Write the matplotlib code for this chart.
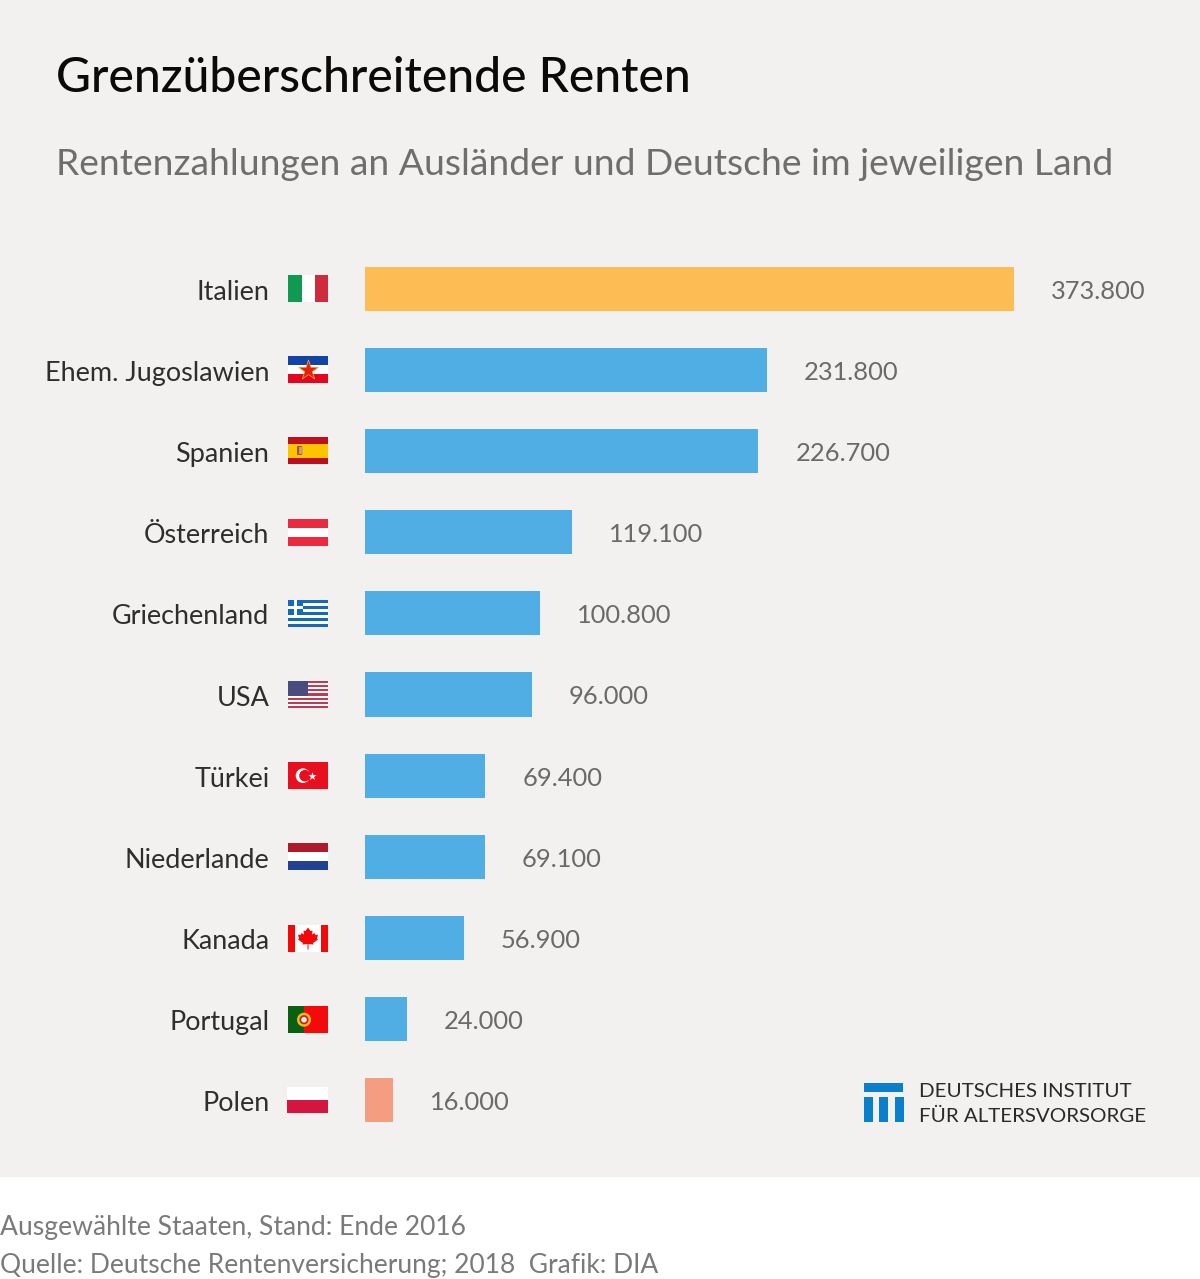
import matplotlib
matplotlib.use("Agg")
import matplotlib.pyplot as plt
from matplotlib.patches import Rectangle, Circle, Polygon
from matplotlib.transforms import ScaledTranslation

plt.rcParams['font.family'] = ['Lato', 'DejaVu Sans']

countries = ["Italien", "Ehem. Jugoslawien", "Spanien", "Österreich", "Griechenland", "USA",
             "Türkei", "Niederlande", "Kanada", "Portugal", "Polen"]
values = [373800, 231800, 226700, 119100, 100800, 96000, 69400, 69100, 56900, 24000, 16000]
value_labels = ["373.800", "231.800", "226.700", "119.100", "100.800", "96.000",
                "69.400", "69.100", "56.900", "24.000", "16.000"]
bar_colors = ["#FDBD54"] + ["#50AEE5"] * 9 + ["#F59D80"]
title = "Grenzüberschreitende Renten"
subtitle = "Rentenzahlungen an Ausländer und Deutsche im jeweiligen Land"
footer_lines = ["Ausgewählte Staaten, Stand: Ende 2016", "Quelle: Deutsche Rentenversicherung; 2018  Grafik: DIA"]
logo_lines = ["DEUTSCHES INSTITUT", "FÜR ALTERSVORSORGE"]

W, H = 1200, 1279
fig = plt.figure(figsize=(W / 100, H / 100), dpi=100, facecolor="white")

# overlay in pixel coordinates for backdrop, flags, logo and headings
bg = fig.add_axes([0, 0, 1, 1], zorder=0)
bg.set_xlim(0, W); bg.set_ylim(H, 0); bg.axis("off")
bg.add_patch(Rectangle((0, 0), W, 1177, fc="#F3F1F0", ec="none"))

ax = fig.add_axes([365 / W, 1 - 1141 / H, (W - 365) / W, (1141 - 248) / H], zorder=1)
ax.patch.set_alpha(0)
ax.set_xlim(0, (W - 365) / (648.5 / 373800))
ax.set_ylim(len(values) - 0.5, -0.5)
ypos = list(range(len(values)))
ax.barh(ypos, values, height=0.542, color=bar_colors, linewidth=0)
ax.set_yticks(ypos, countries)
ax.set_xticks([])
ax.tick_params(axis="y", length=0, pad=68.9, labelsize=19.45, labelcolor="#2E2E2E")
shift = ScaledTranslation(0, -1 / 100, fig.dpi_scale_trans)
for lab in ax.get_yticklabels():
    lab.set_transform(lab.get_transform() + shift)
for s in ax.spines.values():
    s.set_visible(False)
for y, v, t in zip(ypos, values, value_labels):
    ax.annotate(t, (v, y), xytext=(37, -2.5), textcoords="offset pixels", va="center", ha="left",
                fontsize=18.35, color="#6A6A6A")

bg.text(56, 78, title, fontsize=34.6, color="#0A0A0A", va="center", ha="left", fontweight="medium")
bg.text(56, 164.5, subtitle, fontsize=26.8, color="#6E6E6E", va="center", ha="left")
bg.text(0, 1228, footer_lines[0], fontsize=19.1, color="#7A7A7A", va="center", ha="left")
bg.text(0, 1266, footer_lines[1], fontsize=19.0, color="#7A7A7A", va="center", ha="left")


def r(x, y, w, h, c, z=2):
    bg.add_patch(Rectangle((x, y), w, h, fc=c, ec="none", zorder=z))


X0, FW, FH = 288, 40, 27
row = [288.6 + 81.18 * i for i in range(11)]


def top(i):
    return row[i] - FH / 2


third = FH / 3
# Italy
t = top(0)
r(X0, t, 13.5, FH, "#109A50"); r(X0 + 13.5, t, 13.5, FH, "#FFFFFF"); r(X0 + 27, t, 13, FH, "#CE2B3D")
# Yugoslavia
t = top(1)
r(X0, t, FW, third, "#1044A8"); r(X0, t + third, FW, third, "#FFFFFF"); r(X0, t + 2 * third, FW, third, "#E4061C")
bg.scatter([X0 + 20], [t + 13.5], marker="*", s=230, c="#E4200F", edgecolors="#F2B33A", linewidths=0.5, zorder=3)
# Spain
t = top(2)
r(X0, t, FW, 6.7, "#BE0F1E"); r(X0, t + 6.7, FW, 13.6, "#FFC400"); r(X0, t + 20.3, FW, 6.7, "#BE0F1E")
r(X0 + 9, t + 9, 4.5, 8.5, "#A8552A", 3); r(X0 + 11, t + 10, 3.5, 6.5, "#C9A06A", 3)
# Austria
t = top(3)
r(X0, t, FW, third, "#EC2A3F"); r(X0, t + third, FW, third, "#FFFFFF"); r(X0, t + 2 * third, FW, third, "#EC2A3F")
# Greece
t = top(4)
r(X0, t, FW, FH, "#FFFFFF")
for k in range(0, 9, 2):
    r(X0, t + k * FH / 9, FW, FH / 9, "#1568BC")
r(X0, t, 15, 15, "#1568BC"); r(X0 + 6, t, 3, 15, "#FFFFFF"); r(X0, t + 6, 15, 3, "#FFFFFF")
# USA
t = top(5)
r(X0, t, FW, FH, "#FFFFFF")
for k in range(0, 13, 2):
    r(X0, t + k * FH / 13, FW, FH / 13, "#C23A50")
r(X0, t, 20, 14.5, "#4A4C80")
# Turkey
t = top(6)
r(X0, t, FW, FH, "#E8101F")
bg.add_patch(Circle((X0 + 15, t + 13.5), 7.3, fc="white", ec="none", zorder=3))
bg.add_patch(Circle((X0 + 17, t + 13.5), 5.8, fc="#E8101F", ec="none", zorder=4))
bg.scatter([X0 + 23.5], [t + 13.5], marker="*", s=38, c="white", linewidths=0, zorder=5)
# Netherlands
t = top(7)
r(X0, t, FW, third, "#AE1C2C"); r(X0, t + third, FW, third, "#FFFFFF"); r(X0, t + 2 * third, FW, third, "#1F4390")
# Canada
t = top(8)
r(X0, t, FW, FH, "#FFFFFF"); r(X0, t, 7, FH, "#F40808"); r(X0 + 33, t, 7, FH, "#F40808")
cx, cy = X0 + 20, t
leaf = [(0, 3), (2.5, 6.5), (4.5, 6), (4, 10), (6.5, 8.5), (7.5, 10.5), (10, 10), (9, 14), (10, 15), (5, 18.5),
        (5.5, 20), (0.5, 19.5), (0.5, 25), (-0.5, 25), (-0.5, 19.5), (-5.5, 20), (-5, 18.5), (-10, 15), (-9, 14),
        (-10, 10), (-7.5, 10.5), (-6.5, 8.5), (-4, 10), (-4.5, 6), (-2.5, 6.5)]
bg.add_patch(Polygon([(cx + a, cy + b) for a, b in leaf], fc="#F40808", ec="none", zorder=3))
# Portugal
t = top(9)
r(X0, t, 16, FH, "#0A6010"); r(X0 + 16, t, 24, FH, "#F40A0A")
bg.add_patch(Circle((X0 + 16, t + 14), 7, fc="#E4C020", ec="none", zorder=3))
bg.add_patch(Circle((X0 + 16, t + 14), 4.6, fc="#D02020", ec="none", zorder=4))
bg.add_patch(Circle((X0 + 16, t + 14), 2.8, fc="#E8E8F0", ec="none", zorder=5))
# Poland
t = top(10)
r(X0 - 1, t, 41, 13, "#FFFFFF"); r(X0 - 1, t + 13, 41, 13, "#D4163F")

# Logo
r(864, 1083, 39, 8.5, "#0A80CC")
r(864, 1097, 9, 25, "#0A80CC"); r(879, 1097, 9, 25, "#0A80CC"); r(895, 1097, 8.5, 25, "#0A80CC")
bg.text(919, 1091.5, logo_lines[0], fontsize=14.75, color="#2A2A2A", va="center", ha="left")
bg.text(919, 1116, logo_lines[1], fontsize=14.75, color="#2A2A2A", va="center", ha="left")

fig.savefig("out.png", dpi=100, facecolor="white")
